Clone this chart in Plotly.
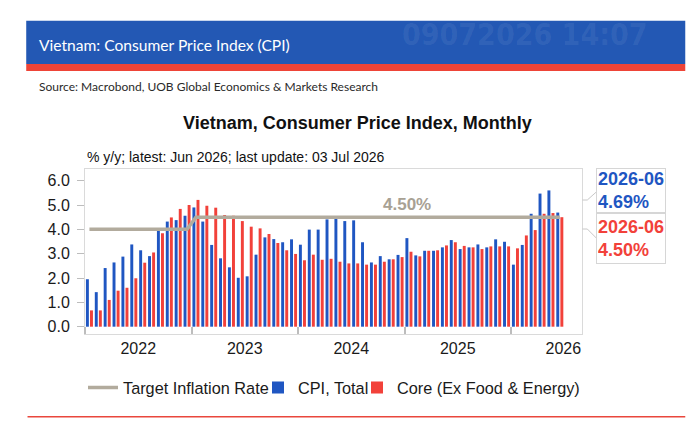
import plotly.graph_objects as go

# ---------------- data ----------------
months = ["2022-01","2022-02","2022-03","2022-04","2022-05","2022-06","2022-07","2022-08","2022-09","2022-10","2022-11","2022-12",
          "2023-01","2023-02","2023-03","2023-04","2023-05","2023-06","2023-07","2023-08","2023-09","2023-10","2023-11","2023-12",
          "2024-01","2024-02","2024-03","2024-04","2024-05","2024-06","2024-07","2024-08","2024-09","2024-10","2024-11","2024-12",
          "2025-01","2025-02","2025-03","2025-04","2025-05","2025-06","2025-07","2025-08","2025-09","2025-10","2025-11","2025-12",
          "2026-01","2026-02","2026-03","2026-04","2026-05","2026-06"]
cpi_total = [1.95,1.42,2.41,2.64,2.88,3.38,3.14,2.90,3.95,4.32,4.38,4.56,
             4.90,4.32,3.36,2.81,2.44,2.01,2.07,2.96,3.67,3.60,3.47,3.59,
             3.37,3.99,3.99,4.41,4.45,4.34,4.37,3.47,2.64,2.90,2.77,2.95,
             3.64,2.93,3.12,3.12,3.26,3.56,3.19,3.26,3.38,3.26,3.59,3.49,
             2.55,3.36,4.64,5.47,5.60,4.69]
core = [0.67,0.67,1.10,1.48,1.60,1.99,2.63,3.05,3.84,4.49,4.84,5.00,
        5.21,4.97,4.89,4.59,4.56,4.34,4.11,4.04,3.81,3.44,3.14,2.99,
        2.73,2.96,2.75,2.79,2.67,2.60,2.60,2.55,2.55,2.67,2.77,2.86,
        3.08,2.89,3.12,3.14,3.34,3.47,3.32,3.26,3.19,3.30,3.30,3.30,
        3.22,3.75,3.97,4.64,4.67,4.50]
target = [4.0,4.0,4.0,4.0,4.0,4.0,4.0,4.0,4.0,4.0,4.0,4.0,
          4.5,4.5,4.5,4.5,4.5,4.5,4.5,4.5,4.5,4.5,4.5,4.5,
          4.5,4.5,4.5,4.5,4.5,4.5,4.5,4.5,4.5,4.5,4.5,4.5,
          4.5,4.5,4.5,4.5,4.5,4.5,4.5,4.5,4.5,4.5,4.5,4.5,
          4.5,4.5,4.5,4.5,4.5,4.5]
year_labels = ["2022", "2023", "2024", "2025", "2026"]
year_label_pos = [5.5, 17.5, 29.5, 41.5, 53.4]
year_bounds = [-0.5, 11.5, 23.5, 35.5, 47.5]
y_ticks = [0, 1, 2, 3, 4, 5, 6]

BLUE = "#1F56C2"
RED = "#F2413A"
GREY = "#B2AB9D"
FONT = "Arial, Liberation Sans, sans-serif"

x = list(range(len(months)))

fig = go.Figure()
fig.add_trace(go.Scatter(x=x, y=target, mode="lines", name="Target Inflation Rate",
                         line=dict(color=GREY, width=3.5), hovertext=months, legend="legend"))
fig.add_trace(go.Bar(x=x, y=cpi_total, name="CPI, Total", marker=dict(color=BLUE, line_width=0),
                     hovertext=months, legend="legend2"))
fig.add_trace(go.Bar(x=x, y=core, name="Core (Ex Food & Energy)", marker=dict(color=RED, line_width=0),
                     hovertext=months, legend="legend3"))

L, R, T, B = 84.5, 581.7, 169, 334
W, H = 700, 444

def px(xp):
    return (xp - L) / (R - L)

def py(yp):
    return (B - yp) / (B - T)

def leg(xleft):
    return dict(orientation="h", xref="container", yref="container", x=xleft / W, xanchor="left",
                y=(H - 388) / H, yanchor="middle", font=dict(size=16.3, color="#1a1a1a"),
                bgcolor="rgba(0,0,0,0)", borderwidth=0, itemwidth=30)

fig.update_layout(
    width=W, height=H,
    margin=dict(l=L, r=W - R, t=T, b=H - B, pad=0),
    paper_bgcolor="white", plot_bgcolor="white",
    barmode="group", bargap=0.08, bargroupgap=0.28,
    font=dict(family=FONT, color="#1a1a1a", size=16),
    showlegend=True,
    legend=leg(83), legend2=leg(258), legend3=leg(357),
    xaxis=dict(range=[-0.5, 55.5], tickmode="array", tickvals=year_label_pos, ticktext=year_labels,
               ticks="", showgrid=False, zeroline=False, showline=True, linecolor="#DADADA",
               mirror=True, tickfont=dict(size=16, color="#1a1a1a"),
               minor=dict(tickmode="array", tickvals=year_bounds, ticks="inside", ticklen=7,
                          tickcolor="#BDBDBD", tickwidth=1.5, showgrid=False)),
    yaxis=dict(range=[-0.3, 6.48], tickmode="array", tickvals=y_ticks, tickformat=".1f",
               ticks="outside", ticklen=7, tickcolor="#BDBDBD", showgrid=False, zeroline=False,
               showline=True, linecolor="#DADADA", mirror=True, tickfont=dict(size=16, color="#1a1a1a"),
               ticklabelstandoff=4),
)

shapes = []
# header banner
shapes.append(dict(type="rect", xref="paper", yref="paper", x0=px(25.7), x1=px(685), y0=py(64), y1=py(20.7),
                   fillcolor="#2358B4", line_width=0, layer="below"))
shapes.append(dict(type="rect", xref="paper", yref="paper", x0=px(25.7), x1=px(685), y0=py(71), y1=py(64),
                   fillcolor="#EE4437", line_width=0, layer="below"))
# bottom red rule
shapes.append(dict(type="line", xref="paper", yref="paper", x0=px(27), x1=px(685), y0=py(416.7), y1=py(416.7),
                   line=dict(color="#E9473C", width=1.5)))
# callout pointers
shapes.append(dict(type="path", xref="paper", yref="paper",
                   path=f"M {px(582)} {py(200)} L {px(587)} {py(200)} L {px(596)} {py(192)}",
                   line=dict(color="#C8C8C8", width=1)))
shapes.append(dict(type="path", xref="paper", yref="paper",
                   path=f"M {px(582)} {py(229)} L {px(587)} {py(229)} L {px(596)} {py(238)}",
                   line=dict(color="#C8C8C8", width=1)))
fig.update_layout(shapes=shapes)

ann = []
ann.append(dict(xref="paper", yref="paper", x=px(400), y=py(34), xanchor="left", yanchor="middle",
                text="<b>09072026 14:07</b>", showarrow=False,
                font=dict(family="DejaVu Sans Condensed, Liberation Sans Narrow, sans-serif", size=30,
                          color="rgba(255,255,255,0.07)")))
ann.append(dict(xref="paper", yref="paper", x=px(36), y=py(45), xanchor="left", yanchor="middle",
                text="Vietnam: Consumer Price Index (CPI)", showarrow=False,
                font=dict(family="Lato, sans-serif", size=15.6, color="white")))
ann.append(dict(xref="paper", yref="paper", x=px(36), y=py(86), xanchor="left", yanchor="middle",
                text="Source: Macrobond, UOB Global Economics & Markets Research", showarrow=False,
                font=dict(family="Lato, sans-serif", size=12, color="#2a2a2a")))
ann.append(dict(xref="paper", yref="paper", x=px(357.5), y=py(123.5), xanchor="center", yanchor="middle",
                text="<b>Vietnam, Consumer Price Index, Monthly</b>", showarrow=False,
                font=dict(family=FONT, size=18, color="#111111")))
ann.append(dict(xref="paper", yref="paper", x=px(84), y=py(157.3), xanchor="left", yanchor="middle",
                text="% y/y; latest: Jun 2026; last update: 03 Jul 2026", showarrow=False,
                font=dict(family=FONT, size=14, color="#111111")))
ann.append(dict(xref="x", yref="y", x=35.8, y=target[-1], xanchor="center", yanchor="bottom", yshift=1,
                text=f"<b>{target[-1]:.2f}%</b>", showarrow=False,
                font=dict(family=FONT, size=17, color="#A8A194")))
ann.append(dict(xref="paper", yref="paper", x=px(596), y=py(190.5), xanchor="left", yanchor="middle",
                text=f"<b>{months[-1]}<br>{cpi_total[-1]:.2f}%</b>", showarrow=False, align="left",
                width=66, height=41, borderpad=1, bordercolor="#D6D6D6", borderwidth=1, bgcolor="white",
                font=dict(family=FONT, size=18, color=BLUE)))
ann.append(dict(xref="paper", yref="paper", x=px(596), y=py(238.5), xanchor="left", yanchor="middle",
                text=f"<b>{months[-1]}<br>{core[-1]:.2f}%</b>", showarrow=False, align="left",
                width=66, height=47, borderpad=1, bordercolor="#D6D6D6", borderwidth=1, bgcolor="white",
                font=dict(family=FONT, size=18, color=RED)))
fig.update_layout(annotations=ann)

fig.write_html("out.html", config={"displayModeBar": False},
               post_script="document.body.style.margin='0px';")
